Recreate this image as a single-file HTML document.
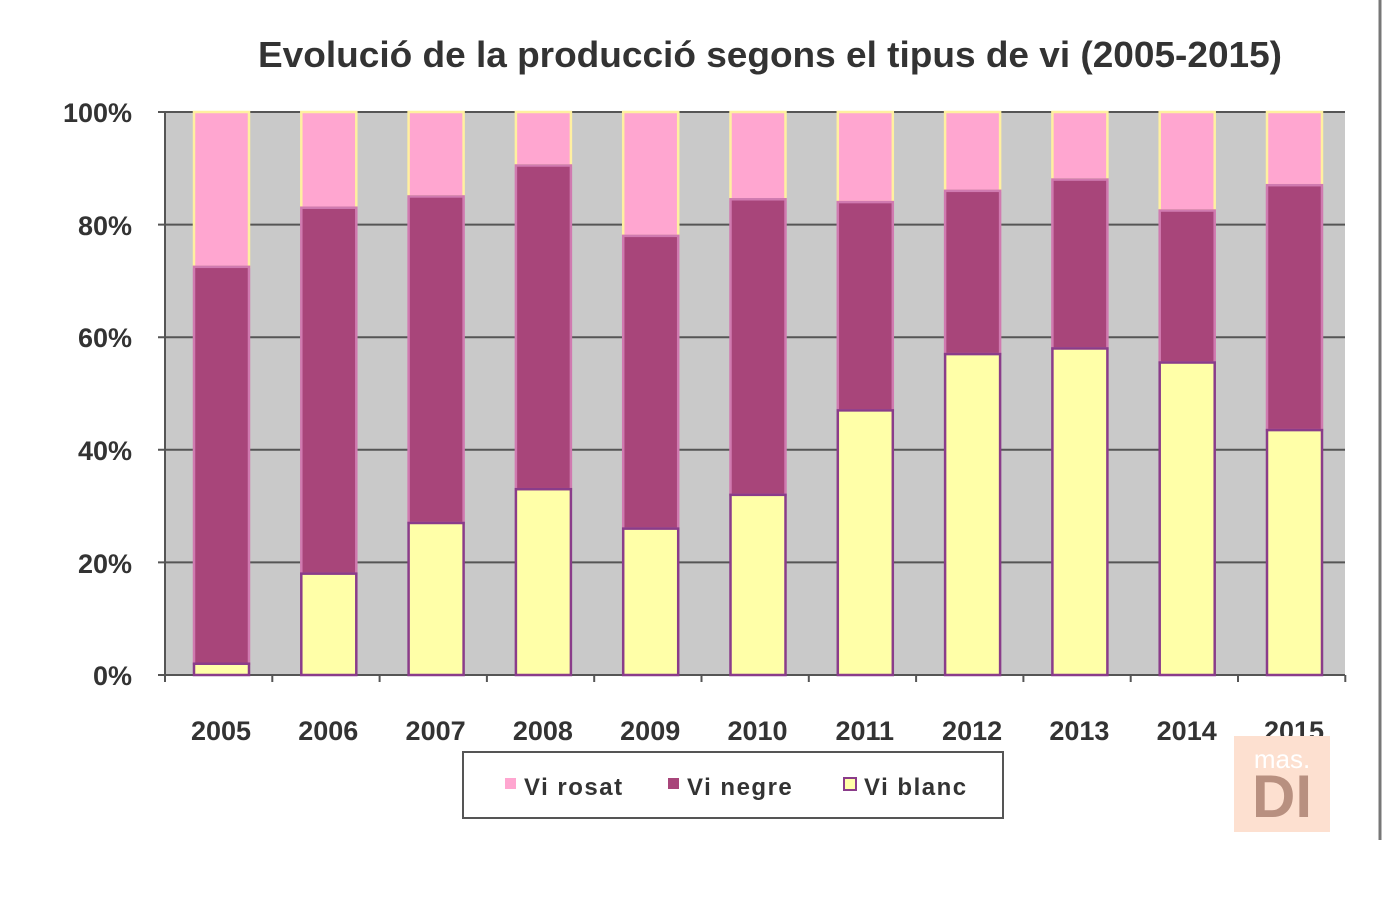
<!DOCTYPE html>
<html><head><meta charset="utf-8"><style>
body{margin:0;background:#fff;width:1400px;height:904px;overflow:hidden}
svg text{font-family:"Liberation Sans",Arial,sans-serif;font-weight:bold;fill:#333}
</style></head><body>
<svg width="1400" height="904" xmlns="http://www.w3.org/2000/svg">
<text x="770" y="67" text-anchor="middle" font-size="36" textLength="1024" lengthAdjust="spacingAndGlyphs" fill="#333">Evolució de la producció segons el tipus de vi (2005-2015)</text>
<rect x="165" y="112" width="1180" height="563" fill="#c9c9c9"/>
<g stroke="#555" stroke-width="2">
<line x1="158" y1="112" x2="1345" y2="112"/>
<line x1="158" y1="224.6" x2="1345" y2="224.6"/>
<line x1="158" y1="337.2" x2="1345" y2="337.2"/>
<line x1="158" y1="449.8" x2="1345" y2="449.8"/>
<line x1="158" y1="562.4" x2="1345" y2="562.4"/>
<line x1="158" y1="675" x2="1345" y2="675"/>
<line x1="165" y1="112" x2="165" y2="682"/>
</g>
<g font-size="27" text-anchor="end">
<text x="132" y="122">100%</text><text x="132" y="235">80%</text><text x="132" y="347">60%</text>
<text x="132" y="460">40%</text><text x="132" y="573">20%</text><text x="132" y="685">0%</text>
</g>
<g id="bars"></g>
<g font-size="27" text-anchor="middle" id="xl"></g>
<rect x="463" y="752" width="540" height="66" fill="#fff" stroke="#555" stroke-width="2"/>
<rect x="505" y="778" width="11" height="11" fill="#ffa6d0"/>
<text x="524" y="795" font-size="24" text-anchor="start" letter-spacing="1.5">Vi rosat</text>
<rect x="668" y="778" width="11" height="11" fill="#a8457a"/>
<text x="687" y="795" font-size="24" letter-spacing="1.5">Vi negre</text>
<rect x="844" y="778" width="12" height="12" fill="#ffffa8" stroke="#8a3c8a" stroke-width="2"/>
<text x="864" y="795" font-size="24" letter-spacing="1.5">Vi blanc</text>
<rect x="1234" y="736" width="96" height="96" fill="#fde0d0"/>
<text x="1282" y="768" font-size="26" text-anchor="middle" style="fill:#fff;font-weight:normal">mas.</text>
<text x="1282" y="817" font-size="60" text-anchor="middle" style="fill:#b89080">DI</text>
<line x1="1380" y1="0" x2="1380" y2="840" stroke="#777" stroke-width="3"/>
</svg>
<script>
var d=[[2,72.5],[18,83],[27,85],[33,90.5],[26,78],[32,84.5],[47,84],[57,86],[58,88],[55.5,82.5],[43.5,87]];
var g=document.getElementById('bars'),xl=document.getElementById('xl'),s='';
function y(v){return 675-v*5.63}
d.forEach(function(b,i){var x=194+i*107.3,w=55;
s+='<rect x="'+x+'" y="'+y(100)+'" width="'+w+'" height="'+(y(b[1])-y(100))+'" fill="#ffa6d0" stroke="#fff0a0" stroke-width="2.5"/>';
s+='<rect x="'+x+'" y="'+y(b[1])+'" width="'+w+'" height="'+(y(b[0])-y(b[1]))+'" fill="#a8457a" stroke="#d07ab0" stroke-width="2.5"/>';
s+='<rect x="'+x+'" y="'+y(b[0])+'" width="'+w+'" height="'+(675-y(b[0]))+'" fill="#ffffa8" stroke="#8a3c8a" stroke-width="2.5"/>';
s+='<line x1="'+(165+(i+1)*107.3)+'" y1="675" x2="'+(165+(i+1)*107.3)+'" y2="682" stroke="#555" stroke-width="2"/>';
});
g.innerHTML=s;var t='';
d.forEach(function(b,i){t+='<text x="'+(221+i*107.3)+'" y="740">'+(2005+i)+'</text>'});
xl.innerHTML=t;
</script>
</body></html>
